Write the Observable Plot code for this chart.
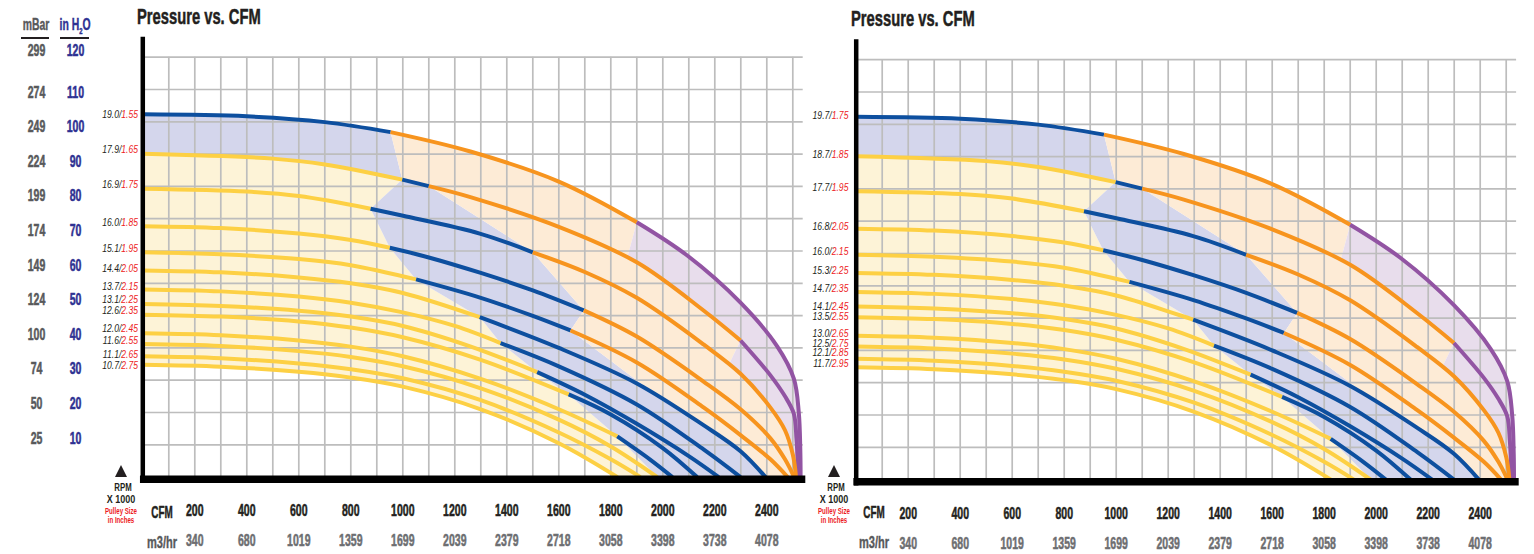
<!DOCTYPE html>
<html><head><meta charset="utf-8">
<script src="https://cdn.jsdelivr.net/npm/d3@7"></script>
<script src="https://cdn.jsdelivr.net/npm/@observablehq/plot@0.6"></script>
<style>
html,body{margin:0;padding:0;background:#fff;}
#wrap{position:relative;width:1534px;height:554px;overflow:hidden;background:#fff;font-family:'Liberation Sans',Arial,sans-serif;}
#wrap svg{position:absolute;left:0;top:0;}
.t{position:absolute;white-space:nowrap;line-height:1;}
.tri{position:absolute;width:0;height:0;border-left:6px solid transparent;border-right:6px solid transparent;border-bottom:12px solid #231f20;}
.ul{position:absolute;height:2px;background:#231f20;}
</style></head><body><div id="wrap"></div>
<script>
// ---------- axis / tick labels ----------
const cfmTicks = [200,400,600,800,1000,1200,1400,1600,1800,2000,2200,2400];
const m3hrLabels = ["340","680","1019","1359","1699","2039","2379","2718","3058","3398","3738","4078"];
const inH2OLabels = [120,110,100,90,80,70,60,50,40,30,20,10];
const mBarLabels = [299,274,249,224,199,174,149,124,100,74,50,25];

// ---------- curve labels (RPM x1000 / pulley size) ----------
const leftRpm = ["19.0/","17.9/","16.9/","16.0/","15.1/","14.4/","13.7/","13.1/","12.6/","12.0/","11.6/","11.1/","10.7/"];
const leftPulley = ["1.55","1.65","1.75","1.85","1.95","2.05","2.15","2.25","2.35","2.45","2.55","2.65","2.75"];
const leftLabelP = [111.3,100.2,89.6,77.6,69.6,63.4,57.9,53.9,50.4,45.0,41.2,36.9,33.5];
const rightRpm = ["19.7/","18.7/","17.7/","16.8/","16.0/","15.3/","14.7/","14.1/","13.5/","13.0/","12.5/","12.1/","11.7/"];
const rightPulley = ["1.75","1.85","1.95","2.05","2.15","2.25","2.35","2.45","2.55","2.65","2.75","2.85","2.95"];
const rightLabelP = [111.5,99.7,89.2,77.4,69.6,63.7,58.2,52.6,49.5,44.2,41.1,38.3,34.9];

// ---------- fan curves: [CFM, pressure in H2O] ----------
const curve00 = [[0,112.3],[400,111.7],[700,109.9],[953,106.8],[1260,100.8],[1600,91.5],[1900,78.9],[2094,68.6],[2299,54.0],[2440,40.5],[2504,30.5],[2523,20],[2529,8],[2530,0]];
const curve01 = [[0,100.1],[500,98.6],[700,96.8],[998,92.1],[1100,90.1],[1260,86.7],[1600,77.5],[1900,66.5],[2158,51.5],[2299,42.3],[2414,31.5],[2470,25],[2504,19.6],[2514,12],[2519,4],[2520,0]];
const curve02 = [[0,89.3],[400,88.4],[600,87.0],[876,83.1],[1001,80.9],[1296,75.4],[1500,69.6],[1700,63.5],[1900,55.5],[2158,41.0],[2299,32.0],[2414,21.5],[2470,14.5],[2500,7],[2510,2],[2512,0]];
const curve03 = [[0,77.7],[300,77.1],[600,75.4],[800,73.4],[950,71.0],[1100,68.0],[1300,63.2],[1500,57.8],[1696,51.6],[1900,43.5],[2158,29.5],[2299,21],[2414,12],[2470,5.5],[2505,0]];
const curve04 = [[0,69.6],[300,69.0],[600,67.5],[800,65.6],[1051,61.2],[1300,55.5],[1500,49.9],[1645,45.4],[1900,35.5],[2158,21.5],[2299,13],[2414,5.5],[2480,0]];
const curve05 = [[0,64.0],[300,63.4],[600,61.8],[800,60.0],[1000,57.0],[1296,49.5],[1600,40.0],[1900,29.0],[2158,16.0],[2299,8],[2395,0]];
const curve06 = [[0,58.1],[300,57.5],[600,55.9],[800,54.0],[1000,51.0],[1200,46.8],[1376,41.5],[1600,34.3],[1900,22.5],[2158,8.5],[2299,0]];
const curve07 = [[0,53.6],[300,53.0],[600,51.5],[800,49.7],[1000,46.8],[1259,40.5],[1517,32.5],[1700,25.5],[1900,16.5],[2100,6.5],[2215,0]];
const curve08 = [[0,50.3],[300,49.7],[600,48.2],[800,46.3],[1000,43.3],[1300,36.3],[1638,25.6],[1800,19.4],[2000,9.0],[2132,0]];
const curve09 = [[0,44.5],[300,43.9],[600,42.3],[800,40.4],[1000,37.4],[1300,30.4],[1600,21.0],[1825,12.6],[1950,5.5],[2037,0]];
const curve10 = [[0,41.2],[300,40.6],[600,39.0],[800,37.2],[1000,34.3],[1300,27.5],[1600,17.8],[1800,9.5],[1979,0]];
const curve11 = [[0,37.4],[300,36.8],[600,35.2],[800,33.4],[1000,30.6],[1300,23.8],[1600,13.8],[1800,5.5],[1914,0]];
const curve12 = [[0,34.8],[300,34.2],[600,32.6],[800,30.8],[1000,28.0],[1300,21.0],[1600,10.5],[1826,0]];
const curves = [curve00,curve01,curve02,curve03,curve04,curve05,curve06,curve07,curve08,curve09,curve10,curve11,curve12];

// colour change points on each curve: [yellow->blue, blue->orange, orange->purple] in CFM (null = none)
const lineChanges = [[0,953,1900],[998,1100,2299],[876,1500,null],[950,1696,null],[1051,1645,null],[1296,null,null],[1376,null,null],[1517,null,null],[1638,null,null],[1825,null,null],[null,null,null],[null,null,null],[null,null,null]];
// shaded band boundaries on the lower curve of each band
const fillLowerChanges = [[0,998,1863],[876,1500,2254],[950,1696,null],[1051,1645,null],[1296,null,null],[1376,null,null],[1517,null,null],[1638,null,null],[1825,null,null],[null,null,null],[null,null,null],[null,null,null]];

const LINE_COL = ["#fdd044","#0d4f9f","#f7941e","#9254a3"];
const FILL_COL = ["#fdf3d7","#d4d6ec","#fdebd6","#e8ddec"];
const FONT = "'Liberation Sans',Arial,sans-serif";

function interp(pts, q){
  if (q <= pts[0][0]) return pts[0][1];
  for (let k=1;k<pts.length;k++){
    if (q <= pts[k][0]){
      const [x0,y0]=pts[k-1],[x1,y1]=pts[k];
      return x1===x0 ? y1 : y0+(y1-y0)*(q-x0)/(x1-x0);
    }
  }
  return pts[pts.length-1][1];
}
function span(pts,a,b){
  const out=[[a,interp(pts,a)]];
  if (b<=a) return out;
  for (const p of pts) if (p[0]>a && p[0]<b) out.push(p);
  out.push([b,interp(pts,b)]);
  return out;
}
const endOf = pts => pts[pts.length-1][0];
function bounds(ch, end){ return [0, ...ch.map(v=>v==null?end:v), end]; }

function lineRows(){
  const rows=[];
  curves.forEach((pts,i)=>{
    const b=bounds(lineChanges[i], endOf(pts));
    for(let k=0;k<4;k++) if(b[k+1]>b[k])
      span(pts,b[k],b[k+1]).forEach(([c,p])=>rows.push({cfm:c,p,key:i+"-"+k,color:LINE_COL[k]}));
  });
  return rows;
}
function fillRows(){
  const rows=[];
  for(let i=0;i<curves.length-1;i++){
    const A=curves[i],B=curves[i+1];
    const ua=bounds(lineChanges[i],endOf(A)), lb=bounds(fillLowerChanges[i],endOf(B));
    for(let k=0;k<4;k++){
      if(!(ua[k+1]>ua[k] || lb[k+1]>lb[k])) continue;
      const poly=span(A,ua[k],ua[k+1]).concat(span(B,lb[k],lb[k+1]).reverse());
      poly.forEach(([c,p])=>rows.push({cfm:c,p,key:"f"+i+"-"+k,color:FILL_COL[k]}));
    }
  }
  return rows;
}
const LINES = lineRows(), FILLS = fillRows();

// horizontally condense svg texts (the original uses a heavy condensed typeface)
function squeeze(svg, rule){
  svg.querySelectorAll("text").forEach(t=>{
    const fs=parseFloat(getComputedStyle(t).fontSize);
    const s=rule(fs);
    const x=+t.getAttribute("x")||0, y=+t.getAttribute("y")||0;
    t.removeAttribute("x"); t.removeAttribute("y");
    t.setAttribute("transform",(t.getAttribute("transform")||"")+` translate(${x},${y}) scale(${s},1)`);
    if (fs>=14){ t.style.stroke=getComputedStyle(t).fill; t.style.strokeWidth="0.55px"; }
  });
}

function chart(x0, zeroY, rpm, pulley, labelP, junction){
  const pxPerCfm = 0.26, pxPerUnit = 3.23;
  const rows = rpm.map((r,i)=>({r, pul:pulley[i], p:labelP[i]}));
  return Plot.plot({
    width:1534, height:554,
    marginLeft:x0, marginRight:1534-(x0+2550*pxPerCfm),
    marginTop:zeroY-130*pxPerUnit, marginBottom:554-zeroY,
    x:{domain:[0,2550], axis:null}, y:{domain:[0,130], axis:null},
    color:{type:"identity"},
    style:{background:"transparent", overflow:"visible", fontFamily:FONT},
    marks:[
      Plot.line(FILLS,{x:"cfm",y:"p",z:"key",fill:"color",stroke:null,curve:"linear"}),
      Plot.ruleX(d3.range(100,2501,100),{y1:0,y2:130,stroke:"#bdbdbd",strokeWidth:1.7}),
      Plot.ruleY(d3.range(10,131,10),{x1:0,x2:2540,stroke:"#bdbdbd",strokeWidth:1.7}),
      Plot.line(LINES,{x:"cfm",y:"p",z:"key",stroke:"color",strokeWidth:4,curve:"catmull-rom",strokeLinecap:"butt"}),
      Plot.ruleX([0],{y1:-2,y2:136.2,stroke:"#000",strokeWidth:4.5}),
      Plot.ruleY([0],{x1:-9,x2:2550,stroke:"#000",strokeWidth:7.5,dy:2.2}),
      Plot.text(cfmTicks,{x:d=>d,frameAnchor:"bottom",dy:39,text:d=>String(d),fontSize:17,fontWeight:"bold",fill:"#231f20"}),
      Plot.text(cfmTicks,{x:d=>d,frameAnchor:"bottom",dy:69,text:(d,i)=>m3hrLabels[i],fontSize:17,fontWeight:"bold",fill:"#6d6e71"}),
      Plot.text(rows,{x:()=>0,y:"p",text:"r",textAnchor:"end",dx:junction,fontSize:10,fontStyle:"italic",fill:"#231f20"}),
      Plot.text(rows,{x:()=>0,y:"p",text:"pul",textAnchor:"start",dx:junction,fontSize:10,fontStyle:"italic",fill:"#ed1c24"})
    ]
  });
}

const wrap = document.getElementById("wrap");
const rule = fs => fs>=14 ? 0.62 : 0.86;
const left = chart(142.3, 476.6, leftRpm, leftPulley, leftLabelP, -21.5);
wrap.appendChild(left); squeeze(left, rule);
const right = chart(855.7, 479.1, rightRpm, rightPulley, rightLabelP, -24.5);
wrap.appendChild(right); squeeze(right, rule);

// left-hand pressure scale column
const colRows = inH2OLabels.map((h,i)=>({h, m:mBarLabels[i]}));
const col = Plot.plot({
  width:110, height:554,
  x:{type:"linear", domain:[0,1], range:[36,75], axis:null},
  y:{type:"linear", domain:[10,110,120], range:[443,97,55], axis:null},
  style:{background:"transparent", fontFamily:FONT},
  marks:[
    Plot.text(colRows,{x:()=>0,y:"h",text:d=>String(d.m),fontSize:17,fontWeight:"bold",fill:"#58595b"}),
    Plot.text(colRows,{x:()=>1,y:"h",text:d=>String(d.h),fontSize:17,fontWeight:"bold",fill:"#2e3192"})
  ]
});
wrap.appendChild(col); squeeze(col, ()=>0.62);

function txt(s, x, y, css, sx, anchor){
  const d=document.createElement("div"); d.className="t"; d.innerHTML=s;
  d.style.left=x+"px"; d.style.top=y+"px";
  d.style.transformOrigin = anchor==="start" ? "0 50%" : "50% 50%";
  d.style.transform = (anchor==="start" ? "translate(0,-50%)" : "translate(-50%,-50%)")+` scaleX(${sx})`;
  Object.assign(d.style, css); wrap.appendChild(d); return d;
}
const dark="#231f20", red="#ed1c24";
// column headers
txt("mBar",36,25,{fontSize:"16px",fontWeight:"bold",color:"#58595b",webkitTextStroke:"0.4px #58595b"},0.65);
txt("in H<span style='font-size:9px;position:relative;top:4px'>2</span>O",75,25,{fontSize:"16px",fontWeight:"bold",color:"#2e3192",webkitTextStroke:"0.4px #2e3192"},0.65);
[[21,28],[60,29]].forEach(([x,w])=>{const u=document.createElement("div");u.className="ul";u.style.left=x+"px";u.style.top="37px";u.style.width=w+"px";wrap.appendChild(u);});

// titles and legend blocks for both charts
[[137,17,121,162],[851,19,834,874]].forEach(([tx,ty,rx,cx])=>{
  txt("Pressure vs. CFM",tx,ty,{fontSize:"22px",fontWeight:"bold",color:dark,webkitTextStroke:"0.5px "+dark},0.67,"start");
  const tri=document.createElement("div"); tri.className="tri"; tri.style.left=(rx-6)+"px"; tri.style.top="465px"; wrap.appendChild(tri);
  txt("RPM",rx+2,487.5,{fontSize:"11.5px",fontWeight:"bold",color:dark},0.68);
  txt("X 1000",rx,499.5,{fontSize:"11.5px",fontWeight:"bold",color:dark},0.78);
  txt("Pulley Size",rx,511,{fontSize:"8.5px",fontWeight:"bold",color:red},0.72);
  txt("in Inches",rx,520,{fontSize:"8.5px",fontWeight:"bold",color:red},0.72);
  txt("CFM",cx,512,{fontSize:"17px",fontWeight:"bold",color:dark,webkitTextStroke:"0.5px "+dark},0.58);
  txt("m3/hr",cx,542,{fontSize:"17px",fontWeight:"bold",color:"#58595b",webkitTextStroke:"0.4px #58595b"},0.65);
});
</script></body></html>
